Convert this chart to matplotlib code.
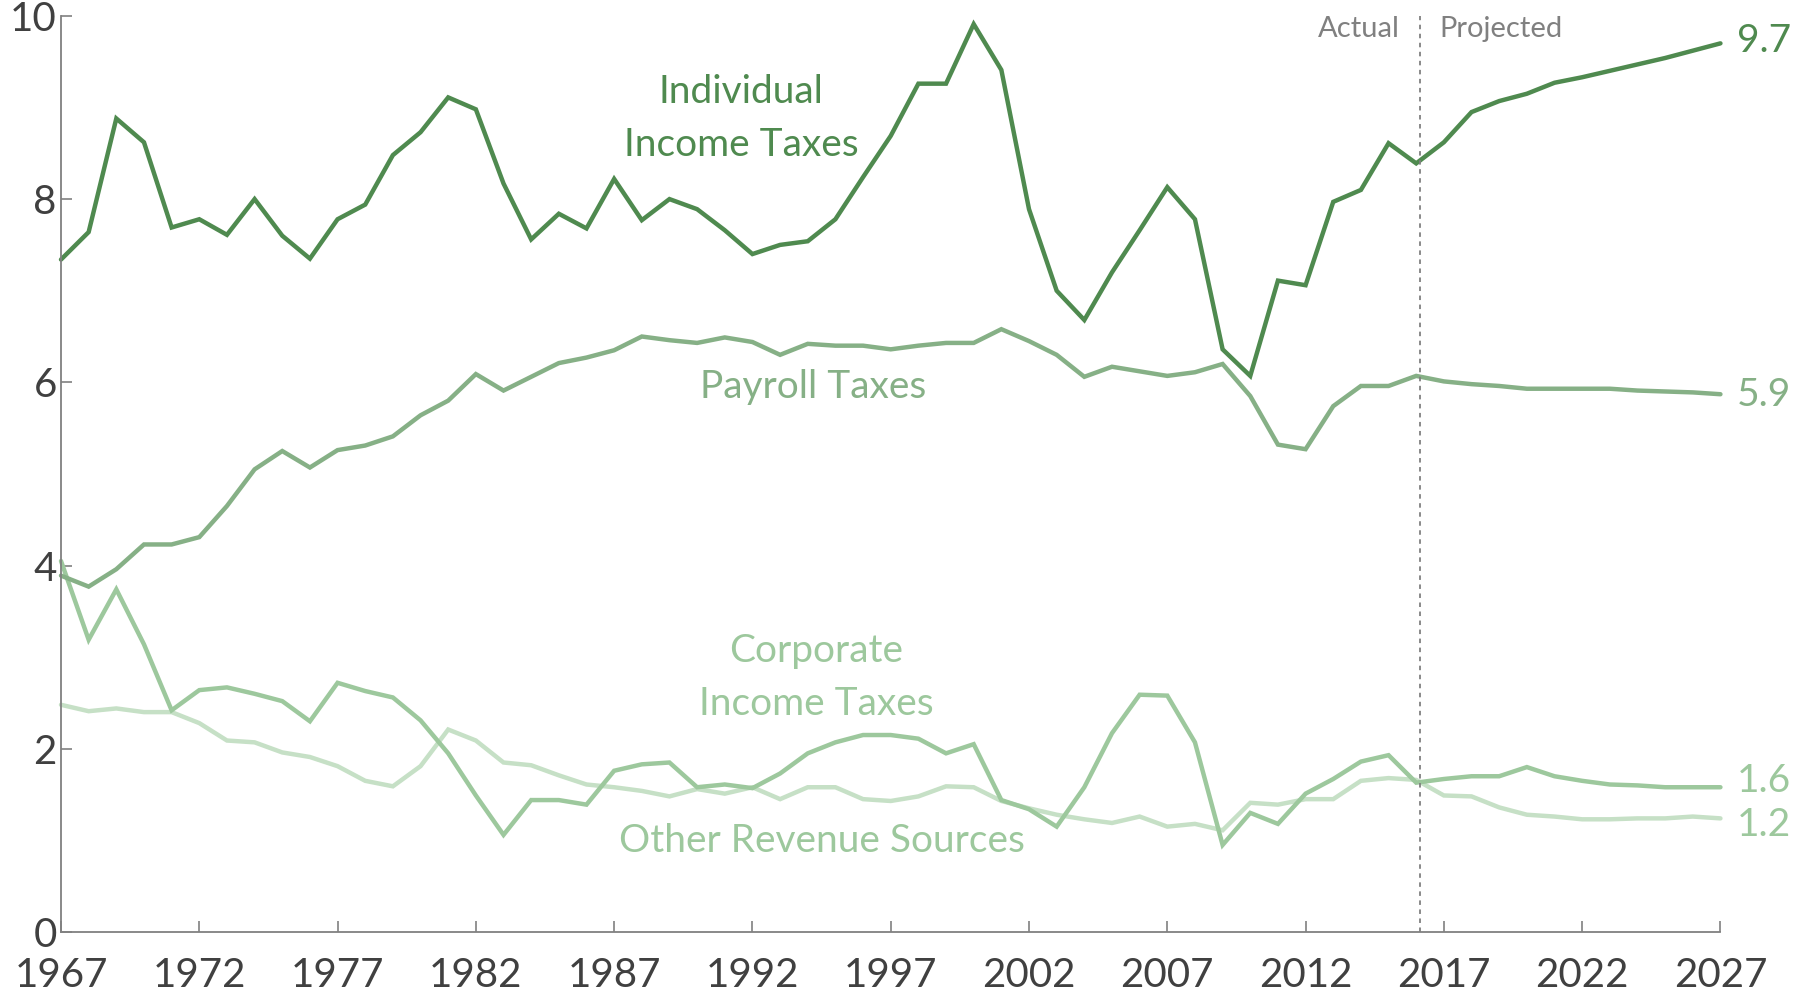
import numpy as np
import matplotlib
matplotlib.use('Agg')
import matplotlib.pyplot as plt

plt.rcParams['font.family'] = ['Lato', 'DejaVu Sans']

# Revenue as share of GDP, 1967-2027
years = list(range(1967, 2028))

individual = [7.34, 7.64, 8.88, 8.62, 7.69, 7.78, 7.61, 8.00, 7.60, 7.35,
              7.78, 7.94, 8.48, 8.73, 9.11, 8.98, 8.17, 7.56, 7.84, 7.68,
              8.22, 7.77, 8.00, 7.89, 7.66, 7.40, 7.50, 7.54, 7.78, 8.24,
              8.69, 9.26, 9.26, 9.91, 9.41, 7.89, 7.00, 6.68, 7.20, 7.66,
              8.13, 7.78, 6.36, 6.07, 7.11, 7.06, 7.97, 8.10, 8.61, 8.39,
              8.62, 8.95, 9.07, 9.15, 9.27, 9.33, 9.40, 9.47, 9.54, 9.62,
              9.70]

payroll = [3.89, 3.77, 3.96, 4.23, 4.23, 4.31, 4.65, 5.05, 5.25, 5.07,
           5.26, 5.31, 5.41, 5.64, 5.80, 6.09, 5.91, 6.06, 6.21, 6.27,
           6.35, 6.50, 6.46, 6.43, 6.49, 6.44, 6.30, 6.42, 6.40, 6.40,
           6.36, 6.40, 6.43, 6.43, 6.58, 6.45, 6.30, 6.06, 6.17, 6.12,
           6.07, 6.11, 6.20, 5.85, 5.32, 5.27, 5.74, 5.96, 5.96, 6.07,
           6.01, 5.98, 5.96, 5.93, 5.93, 5.93, 5.93, 5.91, 5.90, 5.89,
           5.87]

corporate = [4.05, 3.19, 3.74, 3.14, 2.42, 2.64, 2.67, 2.60, 2.52, 2.30,
             2.72, 2.63, 2.56, 2.31, 1.95, 1.49, 1.06, 1.44, 1.44, 1.39,
             1.76, 1.83, 1.85, 1.58, 1.61, 1.57, 1.73, 1.95, 2.07, 2.15,
             2.15, 2.11, 1.95, 2.05, 1.44, 1.34, 1.15, 1.58, 2.17, 2.59,
             2.58, 2.07, 0.95, 1.30, 1.18, 1.51, 1.67, 1.86, 1.93, 1.63,
             1.67, 1.70, 1.70, 1.80, 1.70, 1.65, 1.61, 1.60, 1.58, 1.58,
             1.58]

other = [2.48, 2.41, 2.44, 2.40, 2.40, 2.28, 2.09, 2.07, 1.96, 1.91,
         1.81, 1.65, 1.59, 1.81, 2.21, 2.09, 1.85, 1.82, 1.71, 1.61,
         1.58, 1.54, 1.48, 1.56, 1.51, 1.58, 1.45, 1.58, 1.58, 1.45,
         1.43, 1.48, 1.59, 1.58, 1.43, 1.35, 1.28, 1.23, 1.19, 1.26,
         1.15, 1.18, 1.11, 1.41, 1.39, 1.45, 1.45, 1.65, 1.68, 1.66,
         1.49, 1.48, 1.36, 1.28, 1.26, 1.23, 1.23, 1.24, 1.24, 1.26,
         1.24]

end_labels = ['9.7', '5.9', '1.6', '1.2']

c_ind = '#4f8a4f'
c_pay = '#86b086'
c_corp = '#9dc89d'
c_oth = '#c6e0c6'
gray = '#808080'
dark = '#404040'

fig = plt.figure(figsize=(17.94, 9.92), dpi=100)
ax = fig.add_axes([0.034, 0.0605, 0.925, 0.9235])

series = [(individual, c_ind), (payroll, c_pay), (corporate, c_corp), (other, c_oth)]
for vals, col in series[::-1]:
    ax.plot(years, vals, color=col, lw=3.2, solid_capstyle='round', solid_joinstyle='miter')

# end value labels (the two small series share the lighter label colour,
# and are nudged apart a little so they don't collide)
label_cols = [c_ind, c_pay, c_corp, c_corp]
nudge = [0.03, -0.01, 0.07, -0.07]
for (vals, col), lab, lc, dy in zip(series, end_labels, label_cols, nudge):
    ax.text(2027.6, vals[-1] + dy, lab, color=lc, fontsize=28, va='center', ha='left')

# actual / projected divider
ax.axvline(2016.15, color=gray, lw=1.3, ls=(0, (2.5, 2.5)))
ax.text(2015.4, 9.86, 'Actual', color=gray, fontsize=21, ha='right', va='center')
ax.text(2016.85, 9.86, 'Projected', color=gray, fontsize=21, ha='left', va='center')

# series labels
ax.text(1991.6, 9.17, 'Individual', color=c_ind, fontsize=28, ha='center', va='center')
ax.text(1991.6, 8.59, 'Income Taxes', color=c_ind, fontsize=28, ha='center', va='center')
ax.text(1994.2, 5.95, 'Payroll Taxes', color=c_pay, fontsize=28, ha='center', va='center')
ax.text(1994.3, 3.07, 'Corporate', color=c_corp, fontsize=28, ha='center', va='center')
ax.text(1994.3, 2.49, 'Income Taxes', color=c_corp, fontsize=28, ha='center', va='center')
ax.text(1994.5, 0.99, 'Other Revenue Sources', color=c_corp, fontsize=28, ha='center', va='center')

ax.set_xlim(1967, 2027)
ax.set_ylim(0, 10)
ax.set_xticks(range(1967, 2028, 5))
ax.set_yticks([0, 2, 4, 6, 8, 10])
ax.tick_params(direction='in', length=8, width=1.2, color=gray, labelcolor=dark,
               labelsize=29)
ax.tick_params(axis='x', pad=18)
ax.tick_params(axis='y', pad=3)
for s in ['top', 'right']:
    ax.spines[s].set_visible(False)
for s in ['left', 'bottom']:
    ax.spines[s].set_color(gray)
    ax.spines[s].set_linewidth(1.3)
for l in ax.lines:
    l.set_clip_on(False)

fig.savefig('out.png', dpi=100)
